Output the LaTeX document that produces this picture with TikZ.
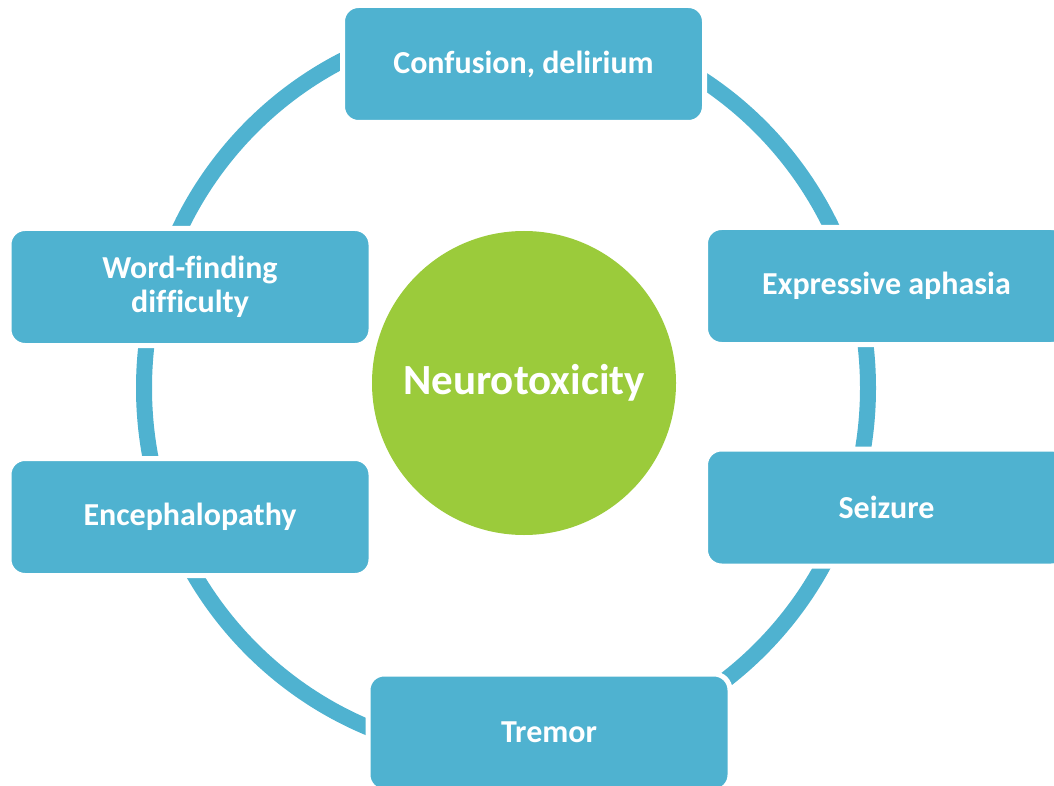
\documentclass[tikz,border=0pt]{standalone}
\usepackage{fontspec}
\setmainfont{Carlito}[Ligatures=NoCommon]
\definecolor{ringblue}{RGB}{79,178,208}
\definecolor{hubgreen}{RGB}{155,203,59}

\begin{document}
\begin{tikzpicture}[x=1pt,y=-1pt,
  symptom/.style={rectangle, rounded corners=16pt, fill=ringblue, draw=white,
    line width=5pt, minimum width=362pt, minimum height=117pt, inner sep=0pt,
    text=white, align=center, font=\fontsize{32}{34}\selectfont\bfseries},
  hub/.style={circle, fill=hubgreen, minimum size=304pt, inner sep=0pt,
    text=white, font=\fontsize{43}{46}\selectfont\bfseries},
  ring/.style={draw=ringblue, line width=16pt}]
  \useasboundingbox (0,0) rectangle (1054,786);

  % the cycle ring behind the symptom boxes
  \coordinate (ringc) at (506,388);
  \draw[ring] (ringc) ellipse [x radius=362, y radius=367];

  % central hub
  \node[hub] (hub) at (524,383) {Neurotoxicity};

  % symptoms around the ring
  \node[symptom] (confusion)  at (523.5,64)  {Confusion, delirium};
  \node[symptom] (expressive) at (886.5,286) {Expressive aphasia};
  \node[symptom] (seizure)    at (886.5,507.5) {Seizure};
  \node[symptom] (tremor)     at (549,732.5) {Tremor};
  \node[symptom] (enceph)     at (190,517)   {Encephalopathy};
  \node[symptom] (word)       at (190,287)   {Word-finding\\difficulty};
\end{tikzpicture}
\end{document}
